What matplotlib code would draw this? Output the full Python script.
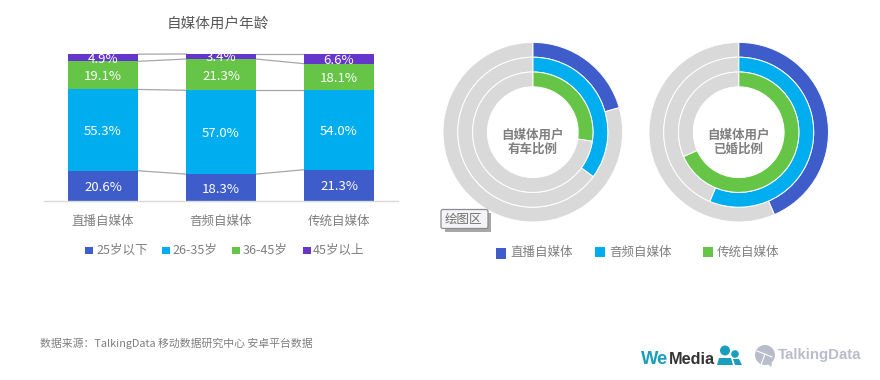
"""Self-media user age and car / marriage share, recreated in matplotlib."""
import matplotlib
matplotlib.use("Agg")
import matplotlib.pyplot as plt
import numpy as np
from matplotlib.patches import Circle, FancyBboxPatch, Polygon, Rectangle

plt.rcParams["font.family"] = ["Noto Sans CJK SC", "DejaVu Sans"]

W, H = 880, 380

categories = ["直播自媒体", "音频自媒体", "传统自媒体"]
age_groups = ["25岁以下", "26-35岁", "36-45岁", "45岁以上"]
age_25 = [20.6, 18.3, 21.3]
age_26_35 = [55.3, 57.0, 54.0]
age_36_45 = [19.1, 21.3, 18.1]
age_45 = [4.9, 3.4, 6.6]

car_share = [20.6, 35.1, 27.4]
married_share = [43.5, 56.3, 68.4]

BLUE, CYAN, GREEN, PURPLE = "#3F5CCB", "#00AEEF", "#66C547", "#6536CC"
GREY, TEXT = "#D9D9D9", "#7F7F7F"


def px_axes(fig, left, top, right, bottom):
    # axes placed by reference pixel box
    return fig.add_axes([left / W, 1 - bottom / H, (right - left) / W, (bottom - top) / H])


fig = plt.figure(figsize=(W / 100, H / 100), dpi=100, facecolor="white")

# --- stacked bars ---
ax = px_axes(fig, 44, 54, 398, 201)
series = [age_25, age_26_35, age_36_45, age_45]
colors = [BLUE, CYAN, GREEN, PURPLE]
x = np.arange(len(categories))
bar_w = 0.59
bottom = np.zeros(len(categories))
for vals, col in zip(series, colors):
    vals = np.array(vals)
    ax.bar(x, vals, bar_w, bottom=bottom, color=col, linewidth=0, zorder=2)
    for xi, b, v in zip(x, bottom, vals):
        ax.text(xi, b + v / 2, f"{v:.1f}%", ha="center", va="center_baseline",
                color="white", fontsize=9.5, clip_on=True, zorder=3)
    bottom = bottom + vals
    # series connector lines between neighbouring bars
    for i in range(len(categories) - 1):
        ax.plot([x[i] + bar_w / 2, x[i + 1] - bar_w / 2], [bottom[i], bottom[i + 1]],
                color="#A6A6A6", lw=0.9, zorder=1, clip_on=False)

ax.set_xlim(-0.5, 2.5)
ax.set_ylim(0, 100)
ax.set_yticks([])
ax.set_xticks(x)
ax.set_xticklabels(categories, fontsize=9, color=TEXT)
ax.tick_params(axis="x", length=0, pad=10)
for side in ["top", "left", "right"]:
    ax.spines[side].set_visible(False)
ax.spines["bottom"].set_color("#D9D9D9")
ax.spines["bottom"].set_linewidth(1)

# --- donuts ---
ring_colors = [BLUE, CYAN, GREEN]
ring_radii = [89.8, 75.0, 60.2]
donuts = [(car_share, 532.8, "自媒体用户\n有车比例"), (married_share, 738.7, "自媒体用户\n已婚比例")]
for shares, cx, label in donuts:
    dax = px_axes(fig, cx - 92, 132.2 - 92, cx + 92, 132.2 + 92)
    for share, col, r in zip(shares, ring_colors, ring_radii):
        dax.pie([share, 100 - share], colors=[col, GREY], radius=r, startangle=90,
                counterclock=False,
                wedgeprops={"width": 14.8, "edgecolor": "white", "linewidth": 0.7})
    dax.set_xlim(-92, 92)
    dax.set_ylim(-92, 92)
    dax.text(0, -10, label, ha="center", va="center", fontsize=9, fontweight="bold",
             color=TEXT, linespacing=1.05)

# --- everything else sits on an overlay in pixel coordinates ---
ov = fig.add_axes([0, 0, 1, 1], zorder=5)
ov.set_xlim(0, W)
ov.set_ylim(H, 0)
ov.axis("off")

ov.text(218, 24, "自媒体用户年龄", ha="center", va="center", fontsize=10.5, color="#595959")

# age legend
age_pos = [(85, 96), (162, 172), (232, 243), (303, 313)]
for (sx, tx), col, name in zip(age_pos, colors, age_groups):
    ov.add_patch(Rectangle((sx, 246.5), 7.5, 7.5, color=col, lw=0))
    ov.text(tx, 250, name, ha="left", va="center", fontsize=9, color=TEXT)

# donut legend
media_pos = [(496, 510, 253.3, 11), (595, 609, 252, 10), (703, 717, 252, 10)]
for (sx, tx, sy, size), col, name in zip(media_pos, ring_colors, categories):
    ov.add_patch(Rectangle((sx, sy - size / 2), 10, size, color=col, lw=0))
    ov.text(tx, 252.5, name, ha="left", va="center", fontsize=9, color=TEXT)

# chart-area tooltip left over from the editor
ov.add_patch(Rectangle((445, 213), 45.5, 18.5, color="#A8A8A8", lw=0, zorder=6))
ov.add_patch(FancyBboxPatch((441, 209.5), 47, 19, boxstyle="round,pad=0,rounding_size=2",
                            fc="#F4F4F6", ec="#8C8C8C", lw=0.9, zorder=7))
ov.text(463, 219, "绘图区", ha="center", va="center", fontsize=9, color="#707070", zorder=8)

ov.text(40, 343.5, "数据来源：TalkingData 移动数据研究中心 安卓平台数据", ha="left", va="center",
        fontsize=7.83, color=TEXT)

# WeMedia logo
logo_font = ["Liberation Sans", "DejaVu Sans"]
ov.text(640.5, 359.6, "We", ha="left", va="center", fontsize=13.2, fontweight="bold",
        color="#1A9EBD", family=logo_font)
ov.text(669, 359.6, "Media", ha="left", va="center", fontsize=11.7, fontweight="bold",
        color="#333333", family=logo_font)
ov.add_patch(Circle((725, 350.5), 5, color="#1A9EBD", lw=0))
ov.add_patch(Polygon([(717, 365), (719, 358), (731, 358), (733, 365)], color="#1A9EBD", lw=0))
ov.add_patch(Circle((735, 354), 3.8, color="#1A9EBD", lw=0))
ov.add_patch(Polygon([(733, 359), (739, 359), (742, 365), (735, 365)], color="#1A9EBD", lw=0))

# TalkingData logo
ov.add_patch(Circle((765, 355), 10, color="#B9BDCB", lw=0))
ov.add_patch(Polygon([(767, 363), (772, 363), (771, 367)], color="#B9BDCB", lw=0))
ov.plot([757, 772], [351, 357], color="white", lw=0.8)
ov.plot([765, 761], [354, 365], color="white", lw=0.8)
ov.text(778, 355, "TalkingData", ha="left", va="center", fontsize=10.8, fontweight="bold",
        color="#B9BDCB", family=["Liberation Sans", "DejaVu Sans"])

fig.savefig("out.png", dpi=100)
